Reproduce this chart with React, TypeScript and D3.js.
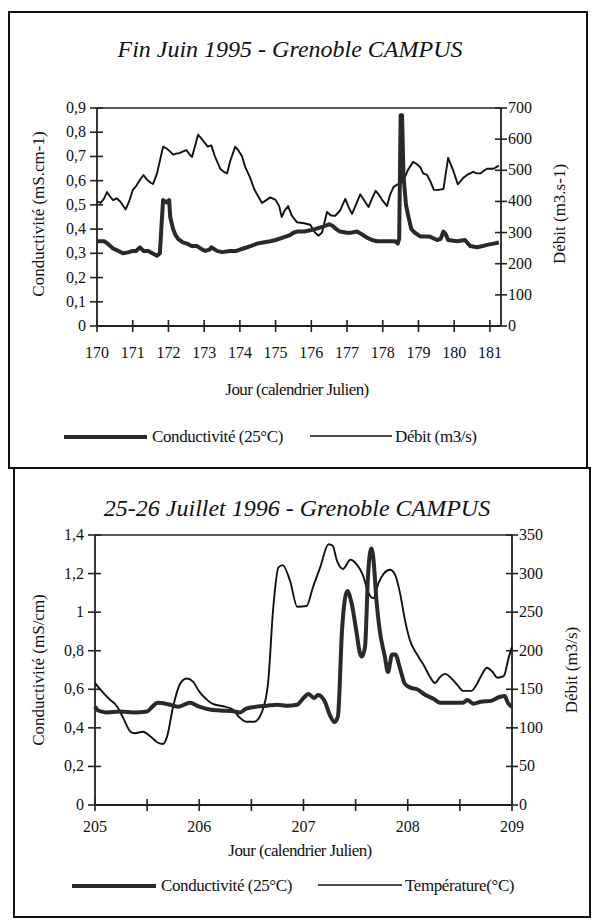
import React from "react";
import * as d3 from "d3";

// ---------- Top chart data (Fin Juin 1995) ----------
const topCondDays = [170.0,170.2,170.3,170.45,170.6,170.73,170.9,171.0,171.1,171.2,171.3,171.43,171.55,171.68,171.76,171.8,171.85,171.95,172.02,172.05,172.13,172.2,172.27,172.4,172.52,172.65,172.8,172.95,173.03,173.15,173.2,173.36,173.5,173.73,173.9,174.1,174.3,174.48,174.65,174.85,175.0,175.2,175.4,175.5,175.6,175.8,175.97,176.1,176.33,176.5,176.58,176.7,176.8,177.0,177.1,177.28,177.4,177.56,177.7,177.84,178.0,178.2,178.35,178.42,178.46,178.5,178.54,178.58,178.65,178.72,178.8,178.9,179.05,179.3,179.52,179.62,179.7,179.76,179.83,180.08,180.3,180.45,180.64,180.8,180.92,181.1,181.25];
const topCondValues = [0.35,0.35,0.34,0.32,0.31,0.30,0.305,0.31,0.31,0.325,0.31,0.31,0.30,0.29,0.30,0.40,0.52,0.51,0.52,0.45,0.40,0.375,0.36,0.345,0.34,0.33,0.33,0.315,0.31,0.315,0.325,0.31,0.305,0.31,0.31,0.32,0.33,0.34,0.345,0.35,0.355,0.365,0.375,0.385,0.39,0.39,0.395,0.40,0.41,0.42,0.415,0.40,0.39,0.385,0.385,0.39,0.38,0.365,0.355,0.35,0.35,0.35,0.35,0.34,0.36,0.87,0.87,0.62,0.50,0.45,0.40,0.385,0.37,0.37,0.355,0.36,0.39,0.38,0.355,0.35,0.355,0.33,0.325,0.33,0.335,0.34,0.345];

const topFlowDays = [170.0,170.1,170.2,170.28,170.37,170.45,170.55,170.65,170.8,170.9,171.0,171.1,171.2,171.3,171.4,171.5,171.57,171.68,171.76,171.85,171.95,172.05,172.13,172.2,172.3,172.4,172.5,172.6,172.66,172.75,172.83,172.9,172.97,173.1,173.2,173.3,173.45,173.55,173.64,173.73,173.87,173.95,174.06,174.15,174.28,174.4,174.48,174.62,174.75,174.85,175.0,175.1,175.17,175.25,175.35,175.45,175.6,175.8,175.97,176.1,176.2,176.3,176.44,176.55,176.67,176.8,176.95,177.05,177.14,177.25,177.37,177.5,177.6,177.7,177.8,177.9,177.98,178.12,178.2,178.3,178.42,178.5,178.57,178.7,178.85,178.95,179.05,179.13,179.24,179.33,179.43,179.55,179.7,179.83,179.97,180.1,180.25,180.36,180.53,180.63,180.73,180.85,180.92,181.1,181.25];
const topFlowValues = [400,395,410,430,415,404,410,400,374,400,436,450,469,485,470,460,456,490,530,576,570,560,550,553,555,560,565,550,543,580,615,605,595,576,580,545,505,495,490,530,576,565,545,510,478,440,423,395,405,413,405,385,350,370,385,355,333,330,325,300,290,300,366,355,354,370,408,380,360,390,423,400,382,410,434,420,405,385,420,446,455,460,465,500,527,520,510,490,485,465,437,437,440,540,500,455,475,485,495,490,490,500,505,505,515];

const topLeftTicks = [0, 0.1, 0.2, 0.3, 0.4, 0.5, 0.6, 0.7, 0.8, 0.9];
const topRightTicks = [0, 100, 200, 300, 400, 500, 600, 700];
const topXTicks = [170, 171, 172, 173, 174, 175, 176, 177, 178, 179, 180, 181];

// ---------- Bottom chart data (25-26 Juillet 1996) ----------
const botCondDays = [205.0,205.03,205.11,205.24,205.37,205.5,205.55,205.6,205.72,205.8,205.91,206.0,206.1,206.2,206.34,206.39,206.45,206.55,206.65,206.75,206.84,206.94,207.0,207.05,207.1,207.14,207.21,207.25,207.3,207.33,207.37,207.42,207.46,207.51,207.54,207.56,207.59,207.62,207.65,207.67,207.7,207.73,207.78,207.81,207.85,207.88,207.93,207.97,208.02,208.09,208.17,208.25,208.31,208.41,208.53,208.57,208.63,208.7,208.8,208.88,208.93,208.96,209.0];
const botCondValues = [0.51,0.49,0.48,0.485,0.48,0.485,0.51,0.53,0.52,0.51,0.53,0.51,0.495,0.49,0.485,0.48,0.50,0.51,0.515,0.52,0.515,0.52,0.555,0.575,0.555,0.57,0.53,0.47,0.43,0.46,0.91,1.11,1.05,0.89,0.79,0.77,0.82,1.20,1.33,1.28,1.06,0.91,0.77,0.69,0.78,0.78,0.70,0.63,0.61,0.60,0.57,0.55,0.53,0.53,0.53,0.545,0.525,0.535,0.54,0.56,0.565,0.53,0.51];

const botFlowDays = [205.0,205.05,205.14,205.21,205.27,205.34,205.38,205.46,205.53,205.6,205.65,205.69,205.75,205.82,205.88,205.94,206.0,206.07,206.13,206.23,206.32,206.39,206.45,206.53,206.6,206.66,206.71,206.76,206.8,206.87,206.94,207.03,207.09,207.16,207.24,207.28,207.32,207.38,207.45,207.51,207.57,207.62,207.67,207.72,207.77,207.83,207.88,207.93,207.97,208.02,208.09,208.15,208.21,208.26,208.31,208.36,208.42,208.48,208.53,208.61,208.66,208.71,208.76,208.81,208.86,208.92,208.97,209.0];
const botFlowValues = [158,150,137,128,113,95,93,95,89,81,79,88,128,158,164,160,147,137,131,128,124,113,108,108,120,158,256,308,311,291,257,258,282,308,338,336,317,306,318,312,298,276,268,288,300,305,298,272,242,214,195,182,167,158,166,170,164,155,148,148,156,169,178,173,165,167,192,205];

const botLeftTicks = [0, 0.2, 0.4, 0.6, 0.8, 1, 1.2, 1.4];
const botRightTicks = [0, 50, 100, 150, 200, 250, 300, 350];
const botXTicks = [205, 205.5, 206, 206.5, 207, 207.5, 208, 208.5, 209];
const botXLabels = [205, 206, 207, 208, 209];

const FONT = '"Liberation Serif", "Times New Roman", "DejaVu Serif", serif';

type PanelProps = {
  frame: { x0: number; y0: number; x1: number; y1: number };
  title: string;
  titleY: number;
  titleX: number;
  plot: { l: number; r: number; t: number; b: number };
  xDomain: [number, number];
  leftDomain: [number, number];
  rightDomain: [number, number];
  leftTicks: number[];
  rightTicks: number[];
  xTicks: number[];
  xLabels: number[];
  leftTitle: string;
  rightTitle: string;
  leftTitleX: number;
  rightTitleX: number;
  titleMidY: number;
  xLabelY: number;
  xTitleY: number;
  xTitleX: number;
  legendY: number;
  legendThick: [number, number];
  legendThin: [number, number];
  legend1: string;
  legend2: string;
  cond: { d: number[]; v: number[] };
  flow: { d: number[]; v: number[] };
  smooth: boolean;
};

function fmt(v: number) {
  return String(v).replace(".", ",");
}

const txt = (size: number, extra: React.CSSProperties = {}): React.CSSProperties => ({
  fontFamily: FONT,
  fontSize: size + "px",
  ...extra,
});

function Panel(p: PanelProps) {
  const x = d3.scaleLinear().domain(p.xDomain).range([p.plot.l, p.plot.r]);
  const yl = d3.scaleLinear().domain(p.leftDomain).range([p.plot.b, p.plot.t]);
  const yr = d3.scaleLinear().domain(p.rightDomain).range([p.plot.b, p.plot.t]);
  const curve = p.smooth ? d3.curveMonotoneX : d3.curveLinear;
  const condPts = p.cond.d.map((d, i) => [d, p.cond.v[i]] as [number, number]);
  const flowPts = p.flow.d.map((d, i) => [d, p.flow.v[i]] as [number, number]);
  const condLine = d3.line<[number, number]>().x((q) => x(q[0])).y((q) => yl(q[1])).curve(curve);
  const flowLine = d3.line<[number, number]>().x((q) => x(q[0])).y((q) => yr(q[1])).curve(curve);
  return (
    <g>
      <rect x={p.frame.x0} y={p.frame.y0} width={p.frame.x1 - p.frame.x0} height={p.frame.y1 - p.frame.y0} fill="none" stroke="#111" strokeWidth={2} />
      <text x={p.titleX} y={p.titleY} textAnchor="middle" style={txt(24, { fontStyle: "italic" })} fill="#111">{p.title}</text>
      <line x1={p.plot.l} x2={p.plot.r} y1={p.plot.t} y2={p.plot.t} stroke="#222" strokeWidth={1.6} />
      <line x1={p.plot.l} x2={p.plot.r} y1={p.plot.b} y2={p.plot.b} stroke="#222" strokeWidth={1.8} />
      <line x1={p.plot.l} x2={p.plot.l} y1={p.plot.t} y2={p.plot.b} stroke="#222" strokeWidth={1.8} />
      <line x1={p.plot.r} x2={p.plot.r} y1={p.plot.t} y2={p.plot.b} stroke="#222" strokeWidth={1.8} />
      {p.leftTicks.map((t) => (
        <g key={"l" + t}>
          <line x1={p.plot.l - 7} x2={p.plot.l + 6} y1={yl(t)} y2={yl(t)} stroke="#222" strokeWidth={1.6} />
          <text x={p.plot.l - 11} y={yl(t) + 5} textAnchor="end" style={txt(16)} fill="#111">{fmt(t)}</text>
        </g>
      ))}
      {p.rightTicks.map((t) => (
        <g key={"r" + t}>
          <line x1={p.plot.r - 6} x2={p.plot.r + 6} y1={yr(t)} y2={yr(t)} stroke="#222" strokeWidth={1.6} />
          <text x={p.plot.r + 7} y={yr(t) + 5} textAnchor="start" style={txt(16)} fill="#111">{t}</text>
        </g>
      ))}
      {p.xTicks.map((t) => (
        <line key={"x" + t} x1={x(t)} x2={x(t)} y1={p.plot.b - 6} y2={p.plot.b + 6} stroke="#222" strokeWidth={1.6} />
      ))}
      {p.xLabels.map((t) => (
        <text key={"xl" + t} x={x(t)} y={p.xLabelY} textAnchor="middle" style={txt(16)} fill="#111">{t}</text>
      ))}
      <text transform={`translate(${p.leftTitleX},${p.titleMidY}) rotate(-90)`} textAnchor="middle" style={txt(17)} fill="#111">{p.leftTitle}</text>
      <text transform={`translate(${p.rightTitleX},${p.titleMidY}) rotate(-90)`} textAnchor="middle" style={txt(17)} fill="#111">{p.rightTitle}</text>
      <text x={p.xTitleX} y={p.xTitleY} textAnchor="middle" style={txt(17, { letterSpacing: "-0.6px" })} fill="#111">Jour (calendrier Julien)</text>
      <path d={flowLine(flowPts) || ""} fill="none" stroke="#111" strokeWidth={1.9} strokeLinejoin="round" />
      <path d={condLine(condPts) || ""} fill="none" stroke="#2a2a2a" strokeWidth={4} strokeLinejoin="round" />
      <line x1={p.legendThick[0]} x2={p.legendThick[1]} y1={p.legendY} y2={p.legendY} stroke="#2a2a2a" strokeWidth={4} />
      <text x={p.legendThick[1] + 5} y={p.legendY + 5} style={txt(17, { letterSpacing: "-0.4px" })} fill="#111">{p.legend1}</text>
      <line x1={p.legendThin[0]} x2={p.legendThin[1]} y1={p.legendY - 1} y2={p.legendY - 1} stroke="#111" strokeWidth={1.7} />
      <text x={p.legendThin[1] + 3} y={p.legendY + 5} style={txt(17, { letterSpacing: "-0.4px" })} fill="#111">{p.legend2}</text>
    </g>
  );
}

export default function App() {
  return (
    <svg width={593} height={924} style={{ position: "absolute", left: 0, top: 0, background: "#fff", fontFamily: FONT }}>
      <rect x={0} y={0} width={593} height={924} fill="#fff" />
      <Panel
        frame={{ x0: 9, y0: 12, x1: 587, y1: 468 }}
        title="Fin Juin 1995 - Grenoble CAMPUS"
        titleX={290}
        titleY={57}
        plot={{ l: 97, r: 501, t: 108, b: 326 }}
        xDomain={[170, 181.31]}
        leftDomain={[0, 0.9]}
        rightDomain={[0, 700]}
        leftTicks={topLeftTicks}
        rightTicks={topRightTicks}
        xTicks={topXTicks}
        xLabels={topXTicks}
        leftTitle="Conductivité (mS.cm-1)"
        rightTitle="Débit (m3.s-1)"
        leftTitleX={44}
        rightTitleX={565}
        titleMidY={214}
        xLabelY={358}
        xTitleY={395}
        xTitleX={297}
        legendY={437}
        legendThick={[64, 147]}
        legendThin={[310, 392]}
        legend1="Conductivité (25°C)"
        legend2="Débit (m3/s)"
        cond={{ d: topCondDays, v: topCondValues }}
        flow={{ d: topFlowDays, v: topFlowValues }}
        smooth={false}
      />
      <Panel
        frame={{ x0: 14, y0: 468, x1: 590, y1: 917 }}
        title="25-26 Juillet 1996 - Grenoble CAMPUS"
        titleX={297}
        titleY={516}
        plot={{ l: 95, r: 512, t: 535, b: 805 }}
        xDomain={[205, 209]}
        leftDomain={[0, 1.4]}
        rightDomain={[0, 350]}
        leftTicks={botLeftTicks}
        rightTicks={botRightTicks}
        xTicks={botXTicks}
        xLabels={botXLabels}
        leftTitle="Conductivité (mS/cm)"
        rightTitle="Débit (m3/s)"
        leftTitleX={44}
        rightTitleX={577}
        titleMidY={670}
        xLabelY={832}
        xTitleY={856}
        xTitleX={300}
        legendY={886}
        legendThick={[72, 156]}
        legendThin={[318, 402]}
        legend1="Conductivité (25°C)"
        legend2="Température(°C)"
        cond={{ d: botCondDays, v: botCondValues }}
        flow={{ d: botFlowDays, v: botFlowValues }}
        smooth={true}
      />
    </svg>
  );
}
